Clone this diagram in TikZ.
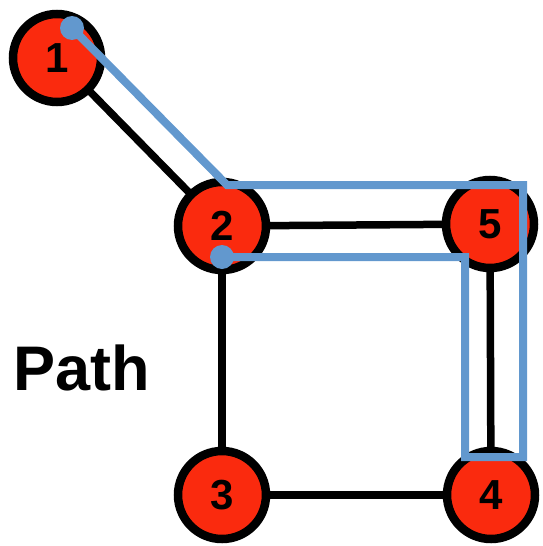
\documentclass[tikz,border=0pt]{standalone}
\usepackage{fontspec}
\setmainfont{Liberation Sans}
\definecolor{nodered}{RGB}{250,42,14}
\definecolor{pathblue}{RGB}{98,152,206}
\pgfdeclarelayer{bg}
\pgfsetlayers{bg,main}
\tikzset{
  vertex/.style={circle, draw=black, line width=8.5pt, fill=nodered, minimum size=88pt, inner sep=0pt, font=\bfseries\fontsize{42}{42}\selectfont},
  edge/.style={draw=black, line width=7.5pt},
  walk/.style={draw=pathblue, line width=8pt, line join=miter},
  walkdot/.style={circle, fill=pathblue, minimum size=24pt, inner sep=0pt},
}
\begin{document}
\begin{tikzpicture}[x=1pt,y=-1pt]
\useasboundingbox (0,0) rectangle (542,546);
\node[vertex] (n1) at (57,58) {1};
\node[vertex] (n2) at (222,226) {2};
\node[vertex] (n5) at (490,224) {5};
\node[vertex] (n3) at (222,495) {3};
\node[vertex] (n4) at (491,495) {4};
\begin{pgfonlayer}{bg}
\draw[edge] (n1.center) -- (n2.center);
\draw[edge] (n2.center) -- (n5.center);
\draw[edge] (n2.center) -- (n3.center);
\draw[edge] (n3.center) -- (n4.center);
\draw[edge] (n5.center) -- (n4.center);
\end{pgfonlayer}
\coordinate (pa) at (72,28);
\coordinate (pb) at (227,185);
\coordinate (pc) at (523,185);
\coordinate (pd) at (523,457);
\coordinate (pe) at (465,457);
\coordinate (pf) at (465,257);
\coordinate (pg) at (222,257);
\draw[walk] (pa) -- (pb) -- (pc) -- (pd) -- (pe) -- (pf) -- (pg);
\node[walkdot] (da) at (pa) {};
\node[walkdot] (dg) at (pg) {};
\node[font=\bfseries\fontsize{63}{63}\selectfont, anchor=base west, inner sep=0pt] (lbl) at (13,390) {Path};
\end{tikzpicture}
\end{document}
